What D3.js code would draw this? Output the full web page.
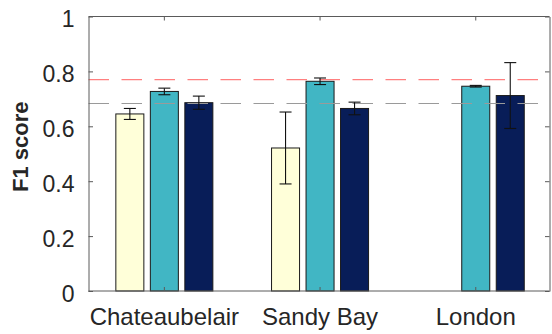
<!DOCTYPE html>
<html>
<head>
<meta charset="utf-8">
<script src="https://cdn.jsdelivr.net/npm/d3@7"></script>
<style>
  html, body { margin: 0; padding: 0; background: #fff; }
  svg { display: block; }
  text { font-family: "Liberation Sans", Arial, Helvetica, sans-serif; fill: #262626; }
</style>
</head>
<body>
<svg id="chart" width="552" height="334"></svg>
<script>
// Sites on the x axis
const categories = ["Chateaubelair", "Sandy Bay", "London"];

// Three models per site (null = not evaluated)
const seriesKeys = ["modelA", "modelB", "modelC"];
const seriesColors = ["#ffffd9", "#41b6c4", "#081d58"];

// Mean F1 score per site
const modelA = [0.645, 0.521, null];
const modelB = [0.727, 0.764, 0.746];
const modelC = [0.686, 0.665, 0.712];

// Half-width of the error bars
const modelAErr = [0.020, 0.131, null];
const modelBErr = [0.012, 0.012, 0.003];
const modelCErr = [0.024, 0.023, 0.120];

// Horizontal reference levels
const refLines = [0.770, 0.683];
const refColors = ["#ff7f7f", "#9a9a9a"];

const yTicks = [0, 0.2, 0.4, 0.6, 0.8, 1];
const yTickLabels = ["0", "0.2", "0.4", "0.6", "0.8", "1"];

const values = [modelA, modelB, modelC];
const errors = [modelAErr, modelBErr, modelCErr];

const svg = d3.select("#chart");
const box = { left: 88.5, right: 549.5, top: 16.5, bottom: 291 };

const y = d3.scaleLinear().domain([0, 1]).range([box.bottom, box.top]);
const x = d3.scaleBand().domain(categories).range([86.5, 553.6]).padding(0);
const xs = d3.scaleBand().domain(seriesKeys).range([-51.75, 51.75])
  .paddingInner(0.188).paddingOuter(0.094);

const rows = [];
seriesKeys.forEach((k, si) => {
  categories.forEach((c, ci) => {
    const v = values[si][ci];
    if (v != null) rows.push({ key: k, cat: c, v: v, e: errors[si][ci], color: seriesColors[si] });
  });
});

const cx = d => x(d.cat) + x.bandwidth() / 2;

// Bars
svg.append("g").selectAll("rect").data(rows).join("rect")
  .attr("x", d => cx(d) + xs(d.key))
  .attr("width", xs.bandwidth())
  .attr("y", d => y(d.v))
  .attr("height", d => y(0) - y(d.v))
  .attr("fill", d => d.color)
  .attr("stroke", "#1a1a1a")
  .attr("stroke-width", 1);

// Reference dashed lines
svg.append("g").selectAll("line").data(refLines).join("line")
  .attr("x1", box.left).attr("x2", box.right - 5)
  .attr("y1", d => y(d)).attr("y2", d => y(d))
  .attr("stroke", (d, i) => refColors[i])
  .attr("stroke-width", 1.2)
  .attr("stroke-dasharray", "20.5,12.5");

// Error bars
const capHalf = 6;
const eg = svg.append("g").attr("stroke", "#111").attr("stroke-width", 1.1);
rows.forEach(d => {
  const xc = cx(d) + xs(d.key) + xs.bandwidth() / 2;
  eg.append("line").attr("x1", xc).attr("x2", xc).attr("y1", y(d.v - d.e)).attr("y2", y(d.v + d.e));
  eg.append("line").attr("x1", xc - capHalf).attr("x2", xc + capHalf).attr("y1", y(d.v - d.e)).attr("y2", y(d.v - d.e));
  eg.append("line").attr("x1", xc - capHalf).attr("x2", xc + capHalf).attr("y1", y(d.v + d.e)).attr("y2", y(d.v + d.e));
});

// Axes box with inward ticks on all sides
const axisColor = "#5a5a5a";
const leftAxis = d3.axisLeft(y).tickValues(yTicks).tickSizeInner(-4.5).tickSizeOuter(0)
  .tickFormat((d, i) => yTickLabels[i]).tickPadding(14);
const gl = svg.append("g").attr("transform", `translate(${box.left},0)`).call(leftAxis);
gl.select(".domain").attr("stroke", axisColor);
gl.selectAll(".tick line").attr("stroke", axisColor);
gl.selectAll(".tick text").attr("font-size", 23).attr("fill", "#262626").attr("dy", "0.45em");

const rightAxis = d3.axisRight(y).tickValues(yTicks).tickSizeInner(-4.5).tickSizeOuter(0).tickFormat("");
const gr = svg.append("g").attr("transform", `translate(${box.right},0)`).call(rightAxis);
gr.select(".domain").attr("stroke", axisColor);
gr.selectAll(".tick line").attr("stroke", axisColor);

const xPos = d3.scaleOrdinal().domain(categories).range(categories.map(c => x(c) + x.bandwidth() / 2));
const bottomTicks = svg.append("g");
bottomTicks.append("line").attr("x1", box.left).attr("x2", box.right)
  .attr("y1", box.bottom).attr("y2", box.bottom).attr("stroke", axisColor);
bottomTicks.selectAll("line.t").data(categories).join("line").attr("class", "t")
  .attr("x1", d => xPos(d)).attr("x2", d => xPos(d))
  .attr("y1", box.bottom).attr("y2", box.bottom - 4).attr("stroke", axisColor);
bottomTicks.selectAll("text").data(categories).join("text")
  .attr("x", d => xPos(d)).attr("y", 325)
  .attr("text-anchor", "middle").attr("font-size", 24)
  .text(d => d);

const topTicks = svg.append("g");
topTicks.append("line").attr("x1", box.left).attr("x2", box.right)
  .attr("y1", box.top).attr("y2", box.top).attr("stroke", axisColor);
topTicks.selectAll("line.t").data(categories).join("line").attr("class", "t")
  .attr("x1", d => xPos(d)).attr("x2", d => xPos(d))
  .attr("y1", box.top).attr("y2", box.top + 4).attr("stroke", axisColor);

// Y-axis title
svg.append("text")
  .attr("transform", "translate(28,146.7) rotate(-90)")
  .attr("text-anchor", "middle")
  .attr("font-size", 22).attr("font-weight", "bold")
  .text("F1 score");
</script>
</body>
</html>
